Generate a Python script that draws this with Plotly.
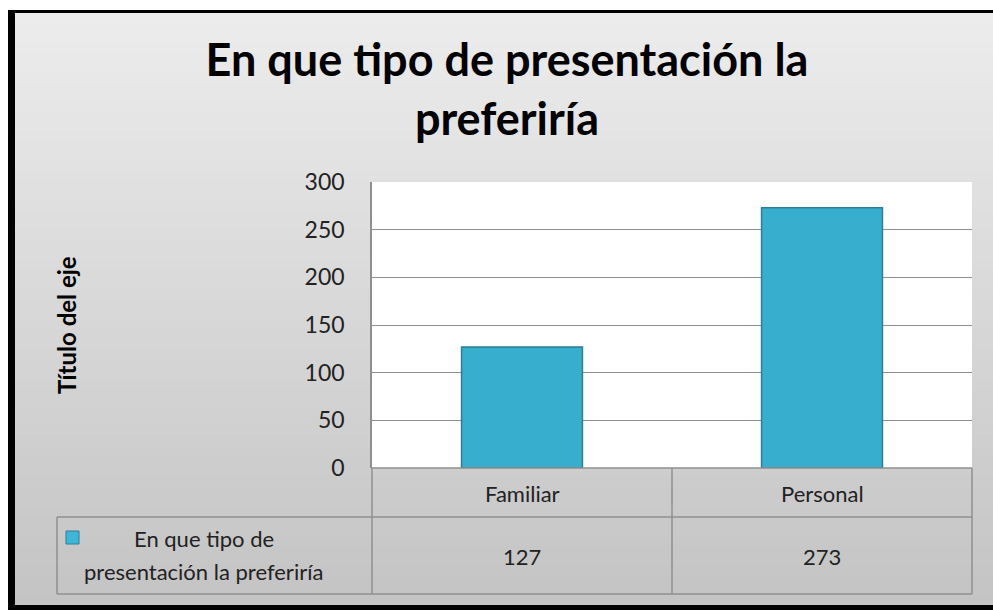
import plotly.graph_objects as go

# ---- data ----
categories = ["Familiar", "Personal"]
values = [127, 273]
series_name = "En que tipo de presentación la preferiría"
legend_lines = ["En que tipo de", "presentación la preferiría"]
title_text = "En que tipo de presentación la<br>preferiría"
y_title = "Título del eje"
y_ticks = [0, 50, 100, 150, 200, 250, 300]

W, H = 993, 610
L, R, T, B = 372, 972, 182, 468  # plot area in pixels


def xp(px):
    return (px - L) / (R - L)


def yp(py):
    return (B - py) / (B - T)


FONT = "Lato"
TXT = "#222222"
LINE = "#8f8f8f"

fig = go.Figure()
fig.add_trace(go.Bar(
    x=categories, y=values, name=series_name,
    marker=dict(color="#37aece", line=dict(color="#2a7e96", width=1.5)),
    showlegend=False,
))

shapes = []
# outer black frame
shapes.append(dict(type="rect", xref="paper", yref="paper", layer="below",
                   x0=xp(8), x1=xp(1000), y0=yp(10), y1=yp(612),
                   fillcolor="black", line=dict(width=0)))
# gradient background (stacked strips, each running to the bottom)
N = 60
top_c = (236, 236, 236)
bot_c = (196, 196, 196)
y_start, y_end = 13, 605
for i in range(N):
    t = i / (N - 1)
    c = tuple(int(round(top_c[k] + (bot_c[k] - top_c[k]) * t)) for k in range(3))
    y0 = y_start + (y_end - y_start) * i / N
    shapes.append(dict(type="rect", xref="paper", yref="paper", layer="below",
                       x0=xp(15), x1=xp(1000), y0=yp(y0), y1=yp(y_end),
                       fillcolor="rgb(%d,%d,%d)" % c, line=dict(width=0)))
# white plot area
shapes.append(dict(type="rect", xref="paper", yref="paper", layer="below",
                   x0=0, x1=1, y0=0, y1=1, fillcolor="white", line=dict(width=0)))


def hline(py, px0, px1):
    shapes.append(dict(type="line", xref="paper", yref="paper",
                       x0=xp(px0), x1=xp(px1), y0=yp(py), y1=yp(py),
                       line=dict(color=LINE, width=1.5)))


def vline(px, py0, py1):
    shapes.append(dict(type="line", xref="paper", yref="paper",
                       x0=xp(px), x1=xp(px), y0=yp(py0), y1=yp(py1),
                       line=dict(color=LINE, width=1.5)))


# data table grid
hline(468, 372, 972)
hline(517, 57, 972)
hline(594, 57, 972)
vline(57, 517, 594)
vline(372, 468, 594)
vline(672, 468, 594)
vline(972, 468, 594)

# legend key square
shapes.append(dict(type="rect", xref="paper", yref="paper",
                   x0=xp(66), x1=xp(79), y0=yp(531), y1=yp(544),
                   fillcolor="#3db6d8", line=dict(color="#2a7e96", width=1)))

annotations = []
for cat, val in zip(categories, values):
    annotations.append(dict(x=cat, xref="x", y=yp(493), yref="paper",
                            xanchor="center", yanchor="middle",
                            text=cat, showarrow=False,
                            font=dict(family=FONT, size=22, color=TXT)))
    annotations.append(dict(x=cat, xref="x", y=yp(556), yref="paper",
                            xanchor="center", yanchor="middle",
                            text=str(val), showarrow=False,
                            font=dict(family=FONT, size=22, color=TXT)))
for i, line_txt in enumerate(legend_lines):
    annotations.append(dict(x=xp(204), xref="paper", y=yp(538 + 33 * i), yref="paper",
                            xanchor="center", yanchor="middle",
                            text=line_txt, showarrow=False,
                            font=dict(family=FONT, size=22, color=TXT)))
# y-axis title
annotations.append(dict(x=xp(66), xref="paper", y=0.5, yref="paper",
                        xanchor="center", yanchor="middle", textangle=-90,
                        text=y_title, showarrow=False,
                        font=dict(family=FONT, size=24, color="black", weight="bold")))

fig.update_layout(
    width=W, height=H,
    margin=dict(l=L, r=W - R, t=T, b=H - B),
    paper_bgcolor="white",
    plot_bgcolor="rgba(0,0,0,0)",
    bargap=0.597,
    title=dict(text=title_text, x=507 / W, xanchor="center",
               y=1 - 76 / H, yanchor="middle",
               font=dict(family=FONT, size=45, color="black", weight="bold")),
    xaxis=dict(range=[-0.5, 1.5], showticklabels=False, showgrid=False,
               zeroline=False, showline=False, fixedrange=True),
    yaxis=dict(range=[0, 300], tickvals=y_ticks, showgrid=True,
               gridcolor=LINE, gridwidth=1.2, zeroline=False,
               showline=True, linecolor=LINE, linewidth=1.5,
               ticks="", ticklabelstandoff=21,
               tickfont=dict(family=FONT, size=23, color=TXT)),
    shapes=shapes,
    annotations=annotations,
    font=dict(family=FONT),
)

fig.write_html("out.html", config={"displayModeBar": False},
               post_script="document.body.style.margin='0';document.body.style.overflow='hidden';")
